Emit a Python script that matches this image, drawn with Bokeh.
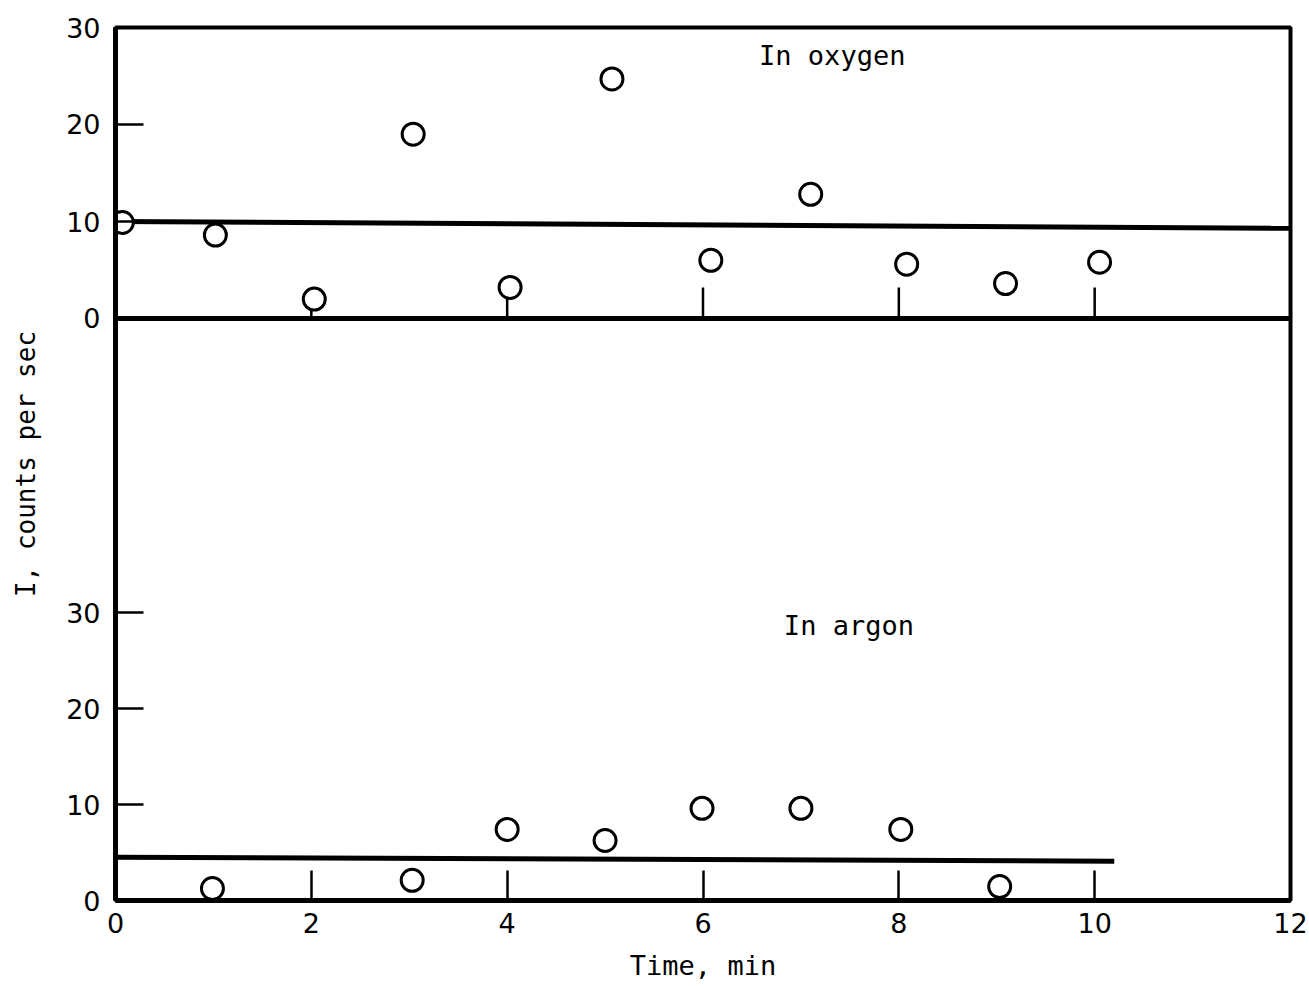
from math import pi

from bokeh.plotting import figure
from bokeh.models import Range1d, FixedTicker, Span, Label
from bokeh.embed import file_html
from bokeh.resources import INLINE

# Counting rate, oxygen atmosphere
oxygen_time = [0.07, 1.02, 2.03, 3.04, 4.03, 5.07, 6.08, 7.10, 8.08, 9.09, 10.05]
oxygen_rate = [9.9, 8.6, 2.0, 19.0, 3.2, 24.7, 6.0, 12.8, 5.6, 3.6, 5.8]
oxygen_mean_time = [0, 12]
oxygen_mean_rate = [10.0, 9.3]

# Counting rate, argon atmosphere
argon_time = [0.99, 3.03, 4.0, 5.0, 5.99, 7.0, 8.02, 9.03]
argon_rate = [1.25, 2.1, 7.4, 6.25, 9.6, 9.6, 7.4, 1.45]
argon_mean_time = [0, 10.2]
argon_mean_rate = [4.5, 4.1]

time_ticks = [0, 2, 4, 6, 8, 10, 12]
panel_time_ticks = [2, 4, 6, 8, 10]
rate_ticks = [0, 10, 20, 30]

# The argon panel uses the main y range, the oxygen panel an extra one
ARGON_LO, ARGON_HI = 0.0, 90.94
OXYGEN_LO, OXYGEN_HI = -60.0, 30.0


def oxygen_to_main(v):
    return round(ARGON_LO + (v - OXYGEN_LO) * (ARGON_HI - ARGON_LO) / (OXYGEN_HI - OXYGEN_LO), 4)


MONO = "DejaVu Sans Mono"
SANS = "DejaVu Sans"

p = figure(
    width=1309, height=986,
    x_range=Range1d(0, 12), y_range=Range1d(ARGON_LO, ARGON_HI),
    output_backend="svg", toolbar_location=None,
    min_border_left=115, min_border_right=19, min_border_top=27, min_border_bottom=86,
)
p.extra_y_ranges = {"oxygen": Range1d(OXYGEN_LO, OXYGEN_HI)}

p.xgrid.visible = False
p.ygrid.visible = False
p.background_fill_color = "white"
p.border_fill_color = "white"
p.outline_line_color = "black"
p.outline_line_width = 4

# Time axis: inward ticks along the bottom of the argon panel
xa = p.xaxis[0]
xa.ticker = FixedTicker(ticks=time_ticks)
xa.major_tick_in = 30
xa.major_tick_out = 0
xa.minor_tick_in = 0
xa.minor_tick_out = 0
xa.major_tick_line_width = 2.5
xa.axis_line_width = 5
xa.major_label_standoff = 12
xa.major_label_text_font = SANS
xa.major_label_text_font_size = "27px"
xa.major_label_text_color = "black"
xa.axis_label = "Time, min"
xa.axis_label_text_font = MONO
xa.axis_label_text_font_size = "27px"
xa.axis_label_text_font_style = "normal"
xa.axis_label_text_color = "black"
xa.axis_label_standoff = 14

# Rate axis: one scale for each panel, both on the left edge
oxygen_positions = [oxygen_to_main(v) for v in rate_ticks]
ya = p.yaxis[0]
ya.ticker = FixedTicker(ticks=rate_ticks + oxygen_positions)
ya.major_label_overrides = {pos: str(v) for pos, v in zip(oxygen_positions, rate_ticks)}
ya.major_tick_in = 28
ya.major_tick_out = 0
ya.minor_tick_in = 0
ya.minor_tick_out = 0
ya.major_tick_line_width = 2.5
ya.axis_line_width = 5
ya.major_label_standoff = 15
ya.major_label_text_font = SANS
ya.major_label_text_font_size = "27px"
ya.major_label_text_color = "black"
ya.axis_label = "I, counts per sec"
ya.axis_label_text_font = MONO
ya.axis_label_text_font_size = "26px"
ya.axis_label_text_font_style = "normal"
ya.axis_label_text_color = "black"
ya.axis_label_standoff = 22

# Oxygen panel: baseline with its own time ticks
p.add_layout(Span(location=0, dimension="width", y_range_name="oxygen",
                  line_color="black", line_width=5))
p.ray(x=panel_time_ticks, y=[0] * len(panel_time_ticks), length=31, length_units="screen",
      angle=pi / 2, line_color="black", line_width=2.5, y_range_name="oxygen")

p.line(oxygen_mean_time, oxygen_mean_rate, line_color="black", line_width=5,
       y_range_name="oxygen")
p.scatter(oxygen_time, oxygen_rate, marker="circle", size=22, fill_color="white",
          line_color="black", line_width=3, y_range_name="oxygen")

p.line(argon_mean_time, argon_mean_rate, line_color="black", line_width=5)
p.scatter(argon_time, argon_rate, marker="circle", size=22, fill_color="white",
          line_color="black", line_width=3)

p.add_layout(Label(x=7.32, y=27.1, y_range_name="oxygen", text="In oxygen",
                   text_align="center", text_baseline="middle",
                   text_font=MONO, text_font_size="27px", text_color="black"))
p.add_layout(Label(x=7.49, y=28.6, text="In argon",
                   text_align="center", text_baseline="middle",
                   text_font=MONO, text_font_size="27px", text_color="black"))

open("out.html", "w").write(file_html(p, INLINE))
